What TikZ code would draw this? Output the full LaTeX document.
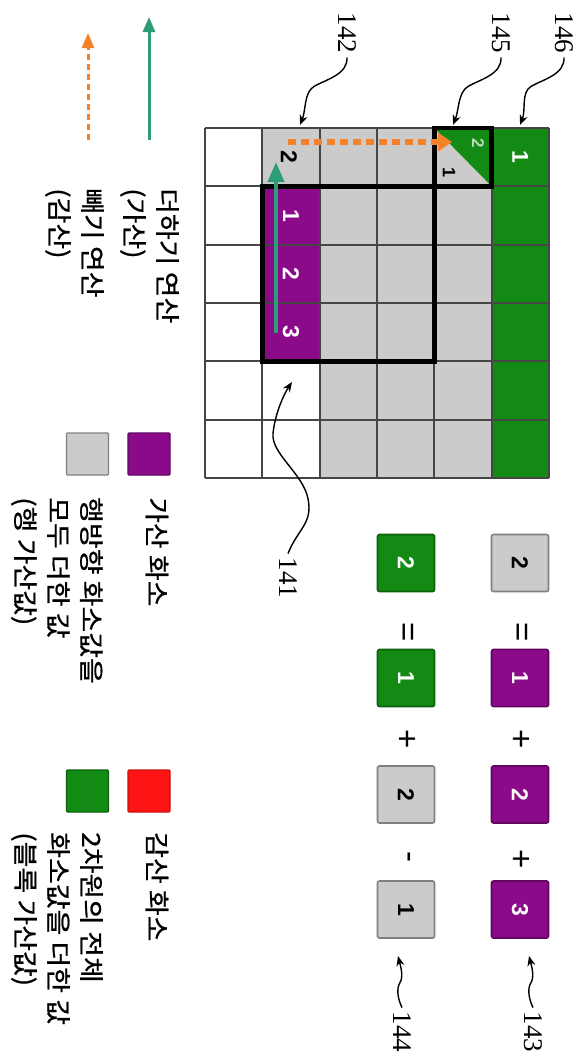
\documentclass[tikz,border=0pt]{standalone}
\usepackage{fontspec}
\setmainfont{Liberation Serif}
\setsansfont{Liberation Sans}
\newfontfamily\krfont[FakeStretch=1.12, FakeBold=0.8]{Noto Sans CJK KR}
\usepackage{tikz}
\usetikzlibrary{arrows.meta}
\definecolor{blockgreen}{HTML}{138A13}
\definecolor{addpurple}{HTML}{8A0A8A}
\definecolor{cellgray}{HTML}{CBCBCB}
\definecolor{subred}{HTML}{FF1414}
\definecolor{addteal}{HTML}{2F9C78}
\definecolor{suborange}{HTML}{F5822A}
\definecolor{gridgray}{HTML}{454545}

\begin{document}
\begin{tikzpicture}[
    x=1pt, y=-1pt,
    gridline/.style={draw=gridgray, line width=2pt},
    blockline/.style={draw=black, line width=4.5pt},
    cellnum/.style={rotate=-90, inner sep=0pt, text=white, font=\sffamily\bfseries\fontsize{23}{23}\selectfont},
    eqbox/.style={rectangle, rotate=-90, minimum size=57pt, rounded corners=2pt, line width=1.6pt, font=\sffamily\bfseries\fontsize{23}{23}\selectfont},
    sign/.style={rotate=-90, inner sep=0pt, font=\sffamily\fontsize{33}{33}\selectfont},
    refnum/.style={rotate=-90, inner sep=4pt, font=\fontsize{27}{27}\selectfont},
    leader/.style={line width=1.4pt, -{Stealth[length=10pt,width=8pt]}},
    addarrow/.style={addteal, line width=4pt, -{Triangle[length=20pt,width=16pt]}},
    subarrow/.style={suborange, line width=6pt, dash pattern=on 8pt off 5pt, -{Triangle[length=14pt,width=18pt]}},
    legtext/.style={rotate=-90, anchor=west, inner sep=0pt, align=left, font=\krfont\fontsize{25}{33}\selectfont},
    legbox/.style={rectangle, minimum size=42pt, rounded corners=1pt, line width=1.2pt}
  ]
    \useasboundingbox[fill=white] (0,0) rectangle (583,1061);

    % block of pixels
    \fill[cellgray] (262.3,128) rectangle (491.7,478);
    \fill[white] (262.3,361.3) rectangle (319.7,478);
    \fill[addpurple] (262.3,186.3) rectangle (319.7,361.3);
    \fill[blockgreen] (491.7,128) rectangle (549,478);
    \fill[blockgreen] (434.3,128) -- (491.7,128) -- (491.7,186.3) -- cycle;
    \foreach \i in {0,...,6}
      \draw[gridline] ({205+57.33*\i},128) -- ({205+57.33*\i},478);
    \foreach \j in {0,...,6}
      \draw[gridline] (205,{128+58.33*\j}) -- (549,{128+58.33*\j});
    \draw[blockline] (262.3,186.3) rectangle (434.3,361.3);
    \draw[blockline] (434.3,128) rectangle (491.7,186.3);

    \node[cellnum] (colsum) at (520.3,157) {1};
    \node[cellnum, text=black] (rowval) at (289,157) {2};
    \node[cellnum] (pix1) at (291,215.5) {1};
    \node[cellnum] (pix2) at (291,274) {2};
    \node[cellnum] (pix3) at (291,332) {3};
    \node[cellnum, text=white!70!blockgreen, font=\sffamily\bfseries\fontsize{17}{17}\selectfont] (diag2) at (478,143) {2};
    \node[cellnum, text=black, font=\sffamily\bfseries\fontsize{18}{18}\selectfont] (diag1) at (449,172) {1};

    % add / subtract directions
    \coordinate (addfrom) at (276,333);
    \coordinate (addto) at (276,162);
    \coordinate (subfrom) at (288,142);
    \coordinate (subto) at (452,142);
    \draw[addarrow] (addfrom) -- (addto);
    \draw[subarrow] (subfrom) -- (subto);

    % reference numbers
    \node[refnum] (l142) at (347,33) {142};
    \node[refnum] (l145) at (501,33) {145};
    \node[refnum] (l146) at (564,33) {146};
    \node[refnum] (l141) at (288,578) {141};
    \node[refnum] (l143) at (533,1032) {143};
    \node[refnum] (l144) at (402,1032) {144};
    \coordinate (t142) at (300,125);
    \coordinate (t145) at (453,125);
    \coordinate (t146) at (520,125);
    \coordinate (t141) at (292,382);
    \coordinate (t143) at (529,956);
    \coordinate (t144) at (398,956);
    \draw[leader] (l142.east) .. controls +(1,17) and +(12,-7) .. ++(-33,29) .. controls +(-10,6) and +(6,-15) .. (t142);
    \draw[leader] (l145.east) .. controls +(1,17) and +(12,-7) .. ++(-33,29) .. controls +(-10,6) and +(6,-15) .. (t145);
    \draw[leader] (l146.east) .. controls +(1,17) and +(12,-7) .. ++(-33,29) .. controls +(-10,6) and +(6,-15) .. (t146);
    \draw[leader] (l141.west) .. controls +(10,-25) and +(5,25) .. ++(20,-55) .. controls +(-5,-25) and +(-2,20) .. ++(-35,-65) .. controls +(2,-20) and +(-8,12) .. (t141);
    \draw[leader] (l143.west) .. controls +(-4,-8) and +(-4,6) .. ++(-2,-25) .. controls +(4,-6) and +(2,8) .. (t143);
    \draw[leader] (l144.west) .. controls +(-4,-8) and +(-4,6) .. ++(-2,-25) .. controls +(4,-6) and +(2,8) .. (t144);

    % row sum = 1 + 2 + 3
    \node[eqbox, fill=cellgray, draw=gray] (rowsum) at (520,563) {2};
    \node[sign] (eqa) at (520,632) {=};
    \node[eqbox, fill=addpurple, draw=addpurple!70!black, text=white] (add1) at (520,678) {1};
    \node[sign] (plusa) at (520,739) {+};
    \node[eqbox, fill=addpurple, draw=addpurple!70!black, text=white] (add2) at (520,794.5) {2};
    \node[sign] (plusb) at (520,859) {+};
    \node[eqbox, fill=addpurple, draw=addpurple!70!black, text=white] (add3) at (520,909.5) {3};

    % block sum = 1 + 2 - 1
    \node[eqbox, fill=blockgreen, draw=blockgreen!70!black, text=white] (blocksum) at (406,563) {2};
    \node[sign] (eqb) at (406,632) {=};
    \node[eqbox, fill=blockgreen, draw=blockgreen!70!black, text=white] (blockprev) at (406,678) {1};
    \node[sign] (plusc) at (406,739) {+};
    \node[eqbox, fill=cellgray, draw=gray] (rownew) at (406,794.5) {2};
    \node[sign] (minusa) at (406,857) {-};
    \node[eqbox, fill=cellgray, draw=gray] (rowold) at (406,909.5) {1};

    % legend
    \coordinate (lgaddfrom) at (149,140);
    \coordinate (lgaddto) at (149,17);
    \coordinate (lgsubfrom) at (88,140);
    \coordinate (lgsubto) at (88,33);
    \draw[addteal, line width=3pt, -{Triangle[length=15pt,width=12pt]}] (lgaddfrom) -- (lgaddto);
    \draw[suborange, line width=3pt, dash pattern=on 6pt off 4pt, -{Triangle[length=15pt,width=12pt]}] (lgsubfrom) -- (lgsubto);
    \node[legtext] (lgadd) at (149.5,188) {더하기 연산\\(가산)};
    \node[legtext] (lgsub) at (74.5,188) {빼기 연산\\(감산)};

    \node[legbox, fill=addpurple, draw=addpurple!70!black] (lgpurple) at (149,454) {};
    \node[legbox, fill=cellgray, draw=gray] (lggray) at (87.5,454) {};
    \node[legtext] (lgpurpletxt) at (157,497) {가산 화소};
    \node[legtext] (lggraytxt) at (57,497) {행방향 화소값을\\모두 더한 값\\(행 가산값)};

    \node[legbox, fill=subred, draw=subred!80!black] (lgred) at (149,791) {};
    \node[legbox, fill=blockgreen, draw=blockgreen!70!black] (lggreen) at (87.5,791) {};
    \node[legtext] (lgredtxt) at (157,832) {감산 화소};
    \node[legtext] (lggreentxt) at (57,832) {2차원의 전체\\화소값을 더한 값\\(블록 가산값)};
  \end{tikzpicture}
\end{document}
